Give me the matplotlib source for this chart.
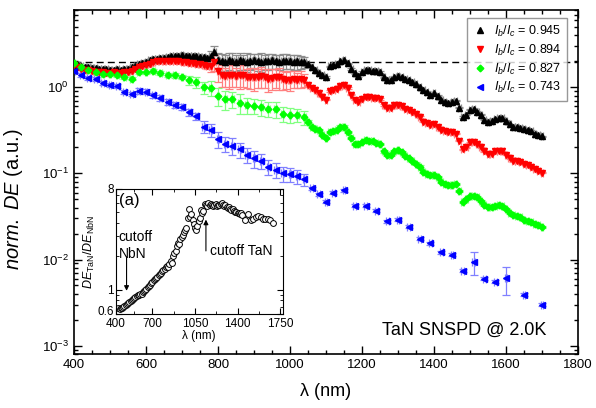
import numpy as np
import matplotlib
matplotlib.use("Agg")
import matplotlib.pyplot as plt
from matplotlib.lines import Line2D
from matplotlib.ticker import FixedLocator, NullFormatter, LogLocator, MultipleLocator
from matplotlib.transforms import ScaledTranslation

plt.rcParams["font.family"] = ["Liberation Sans", "DejaVu Sans"]
plt.rcParams["mathtext.fontset"] = "custom"
plt.rcParams["mathtext.rm"] = "Liberation Sans"
plt.rcParams["mathtext.it"] = "Liberation Sans:italic"
plt.rcParams["mathtext.bf"] = "Liberation Sans:bold"

# --- main panel: normalised detection efficiency vs wavelength ---
wl_dense = np.arange(400, 1701, 10)

black_de = [
    1.85, 1.80, 1.75, 1.72, 1.70, 1.68, 1.66, 1.65, 1.64, 1.62,
    1.60, 1.60, 1.62, 1.60, 1.62, 1.65, 1.70, 1.78, 1.85, 1.92,
    1.98, 2.05, 2.12, 2.15, 2.20, 2.20, 2.25, 2.28, 2.30, 2.32,
    2.35, 2.32, 2.30, 2.30, 2.28, 2.25, 2.22, 2.20, 2.30, 2.55,
    2.10, 2.00, 1.95, 2.05, 2.00, 1.95, 2.05, 2.00, 1.98, 2.02,
    2.05, 2.00, 1.98, 2.00, 2.02, 2.05, 2.00, 1.98, 2.00, 2.02,
    2.00, 1.98, 2.00, 1.98, 1.95, 1.85, 1.70, 1.60, 1.45, 1.38,
    1.32, 1.75, 1.80, 1.85, 2.00, 2.05, 1.90, 1.62, 1.45, 1.35,
    1.50, 1.58, 1.58, 1.55, 1.55, 1.50, 1.30, 1.22, 1.20, 1.32,
    1.36, 1.30, 1.25, 1.20, 1.15, 1.08, 1.00, 0.92, 0.88, 0.82,
    0.85, 0.80, 0.72, 0.67, 0.66, 0.68, 0.70, 0.58, 0.45, 0.48,
    0.55, 0.56, 0.52, 0.48, 0.42, 0.40, 0.41, 0.43, 0.44, 0.44,
    0.41, 0.37, 0.35, 0.35, 0.34, 0.33, 0.32, 0.31, 0.29, 0.28,
    0.27,
]
black_err_head = [
    0.03, 0.03, 0.03, 0.03, 0.03, 0.03, 0.03, 0.03, 0.03, 0.03,
    0.04, 0.04, 0.04, 0.04, 0.04, 0.04, 0.04, 0.04, 0.04, 0.04,
    0.05, 0.05, 0.05, 0.05, 0.05, 0.05, 0.05, 0.05, 0.05, 0.05,
    0.06, 0.06, 0.06, 0.06, 0.06, 0.06, 0.06, 0.06, 0.15, 0.18,
    0.20, 0.22, 0.20, 0.22, 0.25, 0.20, 0.22, 0.20, 0.25, 0.22,
    0.20, 0.22, 0.25, 0.20, 0.22, 0.20, 0.18, 0.20, 0.22, 0.20,
    0.18, 0.20, 0.20, 0.18, 0.15,
]

red_de = [
    1.80, 1.72, 1.65, 1.60, 1.58, 1.55, 1.52, 1.50, 1.50, 1.48,
    1.48, 1.50, 1.48, 1.47, 1.50, 1.50, 1.55, 1.62, 1.70, 1.75,
    1.80, 1.88, 1.95, 2.00, 2.00, 2.02, 2.00, 2.00, 2.02, 2.00,
    1.98, 1.95, 1.92, 1.90, 1.88, 1.85, 1.82, 1.78, 1.75, 1.95,
    1.55, 1.40, 1.35, 1.38, 1.40, 1.35, 1.38, 1.40, 1.30, 1.32,
    1.30, 1.32, 1.35, 1.30, 1.25, 1.28, 1.30, 1.30, 1.25, 1.22,
    1.22, 1.25, 1.22, 1.25, 1.22, 1.05, 0.98, 0.92, 0.85, 0.78,
    0.72, 0.90, 0.93, 0.95, 1.04, 1.06, 0.98, 0.82, 0.72, 0.68,
    0.74, 0.78, 0.78, 0.76, 0.75, 0.73, 0.62, 0.57, 0.57, 0.62,
    0.63, 0.60, 0.56, 0.54, 0.52, 0.49, 0.45, 0.40, 0.38, 0.36,
    0.37, 0.35, 0.32, 0.31, 0.30, 0.30, 0.29, 0.24, 0.19, 0.20,
    0.23, 0.23, 0.22, 0.20, 0.18, 0.17, 0.17, 0.18, 0.18, 0.18,
    0.165, 0.15, 0.14, 0.14, 0.135, 0.13, 0.125, 0.12, 0.112, 0.107,
    0.102,
]
red_err_head = [
    0.03, 0.03, 0.03, 0.03, 0.03, 0.03, 0.03, 0.03, 0.03, 0.03,
    0.04, 0.04, 0.04, 0.04, 0.04, 0.04, 0.04, 0.04, 0.04, 0.04,
    0.05, 0.05, 0.05, 0.05, 0.05, 0.05, 0.05, 0.05, 0.05, 0.05,
    0.06, 0.06, 0.06, 0.06, 0.06, 0.06, 0.06, 0.08, 0.15, 0.20,
    0.25, 0.28, 0.25, 0.30, 0.28, 0.25, 0.30, 0.28, 0.25, 0.28,
    0.30, 0.25, 0.28, 0.25, 0.30, 0.28, 0.25, 0.28, 0.25, 0.22,
    0.25, 0.22, 0.20, 0.22, 0.18,
]

wl_green = np.r_[np.arange(400, 1041, 20), np.arange(1050, 1701, 10)]
green_de = [
    1.90, 1.71, 1.58, 1.50, 1.42, 1.42, 1.38, 1.31, 1.25, 1.50,
    1.50, 1.54, 1.46, 1.38, 1.38, 1.31, 1.21, 1.15, 1.00, 0.98,
    0.80, 0.73, 0.73, 0.66, 0.62, 0.61, 0.59, 0.56, 0.56, 0.49,
    0.48, 0.48, 0.45,
    0.40, 0.35, 0.33, 0.32, 0.28, 0.26, 0.30, 0.31, 0.32, 0.35,
    0.35, 0.30, 0.26, 0.22, 0.22, 0.23, 0.245, 0.24, 0.235, 0.225,
    0.22, 0.18, 0.165, 0.165, 0.18, 0.185, 0.175, 0.16, 0.15, 0.14,
    0.13, 0.12, 0.105, 0.098, 0.095, 0.097, 0.09, 0.08, 0.075, 0.073,
    0.074, 0.075, 0.062, 0.047, 0.05, 0.054, 0.055, 0.053, 0.048, 0.043,
    0.041, 0.041, 0.042, 0.043, 0.042, 0.039, 0.035, 0.033, 0.032, 0.031,
    0.029, 0.028, 0.027, 0.026, 0.025, 0.024,
]
green_err_head = [
    0.03, 0.03, 0.03, 0.03, 0.03, 0.04, 0.04, 0.04, 0.04, 0.04,
    0.04, 0.05, 0.05, 0.05, 0.06, 0.06, 0.12, 0.14, 0.16, 0.20,
    0.24, 0.25, 0.22, 0.25, 0.22, 0.20, 0.22, 0.20, 0.22, 0.20,
    0.20, 0.18, 0.18,
]

wl_blue = [
    400, 420, 440, 460, 480, 500, 520, 540, 560, 580,
    600, 620, 640, 660, 680, 700, 720, 740, 760, 780,
    800, 820, 840, 860, 880, 900, 920, 940, 960, 980,
    1000, 1020, 1040, 1060, 1080, 1100, 1120, 1150, 1180, 1210,
    1240, 1270, 1300, 1330, 1360, 1390, 1420, 1450, 1480, 1510,
    1540, 1570, 1600, 1650, 1700,
]
blue_de = [
    1.55, 1.39, 1.28, 1.25, 1.12, 1.06, 1.04, 0.88, 0.84, 0.91,
    0.89, 0.81, 0.75, 0.68, 0.62, 0.59, 0.51, 0.46, 0.35, 0.32,
    0.25, 0.22, 0.21, 0.19, 0.165, 0.15, 0.14, 0.12, 0.11, 0.10,
    0.098, 0.093, 0.085, 0.067, 0.057, 0.047, 0.060, 0.064, 0.042, 0.042,
    0.037, 0.028, 0.029, 0.024, 0.0175, 0.0155, 0.0121, 0.0113, 0.0074, 0.0094,
    0.0060, 0.0055, 0.0061, 0.0039, 0.0030,
]
blue_err = [
    0.04, 0.05, 0.05, 0.05, 0.05, 0.06, 0.06, 0.06, 0.06, 0.07,
    0.07, 0.07, 0.08, 0.08, 0.08, 0.08, 0.10, 0.10, 0.15, 0.18,
    0.22, 0.20, 0.22, 0.20, 0.20, 0.22, 0.20, 0.20, 0.20, 0.20,
    0.18, 0.18, 0.15, 0.04, 0.04, 0.04, 0.04, 0.04, 0.04, 0.04,
    0.04, 0.04, 0.04, 0.04, 0.04, 0.04, 0.04, 0.04, 0.04, 0.29,
    0.04, 0.04, 0.36, 0.04, 0.04,
]

ratio_labels = ["0.945", "0.894", "0.827", "0.743"]
saturation_level = 1.95

# --- inset: ratio of TaN to NbN detection efficiency ---
inset_wl = [
    420, 430, 440, 450, 460, 470, 480, 490, 500, 510,
    520, 530, 540, 550, 560, 570, 580, 590, 600, 610,
    620, 630, 640, 650, 660, 670, 680, 690, 700, 710,
    720, 730, 740, 750, 760, 770, 780, 790, 800, 810,
    820, 830, 840, 850, 860, 870, 880, 890, 900, 910,
    920, 930, 940, 950, 960, 970, 980, 990, 1000, 1010,
    1020, 1030, 1040, 1050, 1060, 1070, 1080, 1090, 1100, 1110,
    1120, 1130, 1140, 1150, 1160, 1170, 1180, 1190, 1200, 1210,
    1220, 1230, 1240, 1250, 1260, 1270, 1280, 1290, 1300, 1310,
    1320, 1330, 1340, 1350, 1360, 1370, 1380, 1390, 1400, 1410,
    1420, 1430, 1440, 1460, 1490, 1510, 1530, 1550, 1570, 1590,
    1610, 1630, 1650, 1670, 1690,
]
inset_ratio = [
    0.68, 0.67, 0.68, 0.69, 0.70, 0.71, 0.73, 0.74, 0.76, 0.78,
    0.79, 0.81, 0.83, 0.84, 0.86, 0.87, 0.89, 0.90, 0.91, 0.92,
    0.95, 0.97, 1.00, 1.02, 1.05, 1.07, 1.10, 1.14, 1.18, 1.22,
    1.25, 1.28, 1.31, 1.36, 1.39, 1.42, 1.47, 1.50, 1.53, 1.58,
    1.62, 1.60, 1.68, 1.80, 1.75, 2.00, 2.15, 2.20, 2.45, 2.60,
    2.55, 2.85, 2.95, 3.10, 3.30, 3.40, 3.60, 4.40, 5.30, 4.50,
    4.80, 4.20, 3.90, 3.60, 3.40, 3.70, 4.10, 4.40, 5.20, 4.90,
    5.10, 5.90, 5.80, 5.60, 6.00, 5.70, 5.90, 5.80, 5.60, 5.70,
    5.90, 5.60, 5.70, 5.80, 5.90, 6.00, 5.80, 5.60, 5.70, 5.50,
    5.40, 5.50, 5.30, 5.20, 5.30, 5.10, 5.00, 5.00, 4.90, 4.90,
    4.80, 4.90, 4.70, 4.20, 4.80, 4.20, 4.30, 4.50, 4.60, 4.50,
    4.30, 4.30, 4.30, 4.20, 4.00,
]


def with_tail(head, n, tail_value):
    return np.r_[head, np.full(n - len(head), tail_value)]


fig = plt.figure(figsize=(5.96, 4.08), dpi=100)
ax = fig.add_axes([0.1242, 0.1324, 0.8456, 0.8443])

series = [
    (wl_dense, black_de, with_tail(black_err_head, len(black_de), 0.02), "k", "#8c8c8c", "^"),
    (wl_dense, red_de, with_tail(red_err_head, len(red_de), 0.02), "#ff0000", "#ff8080", "v"),
    (wl_green, green_de, with_tail(green_err_head, len(green_de), 0.03), "#00ff00", "#80ff80", "D"),
    (np.array(wl_blue), blue_de, np.array(blue_err), "#0000ff", "#8080ff", "<"),
]

ax.plot([400, 1800], [saturation_level, saturation_level], ls=(0, (5, 3)),
        color="k", lw=1.0, zorder=1)

handles = []
for (wl, de, rel, col, ecol, mk), lab in zip(series, ratio_labels):
    de = np.asarray(de)
    ax.errorbar(wl, de, yerr=de * rel, xerr=4, fmt="none", ecolor=ecol,
                elinewidth=0.9, capsize=3, capthick=0.9, zorder=2)
    ms = 3.4 if mk == "D" else 4.3
    ax.plot(wl, de, ls="none", marker=mk, ms=ms, color=col, mec=col, zorder=3)
    handles.append(Line2D([], [], ls="none", marker=mk, ms=ms, color=col,
                          label=r"$I_b/I_c$ = " + lab))

ax.set_yscale("log")
ax.set_xlim(400, 1800)
ax.set_ylim(8e-4, 8)
ax.xaxis.set_major_locator(MultipleLocator(200))
ax.xaxis.set_minor_locator(MultipleLocator(50))
ax.yaxis.set_major_locator(LogLocator(base=10, numticks=10))
ax.yaxis.set_minor_locator(LogLocator(base=10, subs=np.arange(2, 10), numticks=20))
ax.yaxis.set_minor_formatter(NullFormatter())
ax.tick_params(which="both", direction="in", top=True, right=True, labelsize=9.5)
ax.tick_params(which="major", length=6, width=1)
ax.tick_params(which="minor", length=3, width=1)
for sp in ax.spines.values():
    sp.set_linewidth(1.2)

ax.set_xlabel("λ (nm)", fontsize=13, labelpad=9)
ax.set_ylabel(r"$\it{norm.\ DE}$ (a.u.)", fontsize=14.5)
ax.yaxis.set_label_coords(-0.097, 0.45)

leg = ax.legend(handles=handles, loc="upper right", bbox_to_anchor=(0.978, 0.975),
                fontsize=9, frameon=True, fancybox=False, edgecolor="#7f7f7f",
                handletextpad=0.5, borderpad=0.45, labelspacing=0.3, handlelength=1.2,
                borderaxespad=0.0)
leg.get_frame().set_linewidth(1.0)
leg.set_zorder(5)

ax.text(0.938, 0.07, "TaN SNSPD @ 2.0K", transform=ax.transAxes, ha="right",
        va="center", fontsize=13)

# inset
ins = fig.add_axes([0.1946, 0.2297, 0.2794, 0.3071])
ins.plot(inset_wl, inset_ratio, ls="none", marker="o", ms=4.2, mfc="white",
         mec="k", mew=0.7)
ins.set_yscale("log")
ins.set_xlim(400, 1770)
ins.set_ylim(0.6, 8)
ins.xaxis.set_major_locator(FixedLocator([400, 700, 1050, 1400, 1750]))
ins.xaxis.set_minor_locator(FixedLocator([550, 875, 1225, 1575]))
ins.yaxis.set_major_locator(FixedLocator([0.6, 1, 8]))
ins.set_yticklabels(["0.6", "1", "8"])
ins.yaxis.set_minor_locator(FixedLocator([0.7, 0.8, 0.9, 2, 3, 4, 5, 6, 7]))
ins.yaxis.set_minor_formatter(NullFormatter())
ins.tick_params(which="both", direction="in", top=True, right=True, labelsize=8.5)
ins.tick_params(axis="x", pad=2.5)
ins.tick_params(axis="y", pad=1.5)
ins.tick_params(which="major", length=4)
ins.tick_params(which="minor", length=2)
ins.set_xlabel("λ (nm)", fontsize=8.5, labelpad=0)
ins.set_ylabel(r"$\it{DE}_{\rm TaN}/\it{DE}_{\rm NbN}$", fontsize=9, labelpad=0)

# lift the corner "0.6" label a little so it clears the "400" below it
corner = ins.get_yticklabels()[0]
corner.set_transform(corner.get_transform() + ScaledTranslation(0, 3 / 72, fig.dpi_scale_trans))

ins.text(0.02, 0.97, "(a)", transform=ins.transAxes, ha="left", va="top", fontsize=12)
ins.text(422, 2.5, "cutoff\nNbN", ha="left", va="center", fontsize=10, linespacing=1.3)
ins.annotate("", xy=(487, 0.92), xytext=(487, 2.05),
             arrowprops=dict(arrowstyle="-|>", color="k", lw=0.8, mutation_scale=7))
ins.annotate("", xy=(1140, 4.5), xytext=(1140, 2.1),
             arrowprops=dict(arrowstyle="-|>", color="k", lw=0.8, mutation_scale=7))
ins.text(1175, 2.2, "cutoff TaN", ha="left", va="center", fontsize=10)

fig.savefig("out.png", dpi=100)
